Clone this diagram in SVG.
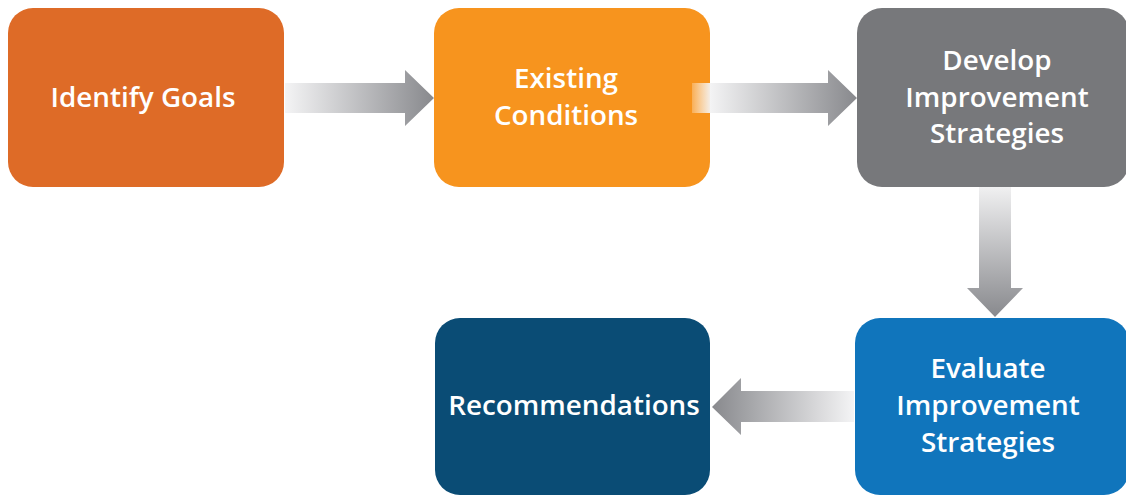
<svg xmlns="http://www.w3.org/2000/svg" width="1126" height="496" viewBox="0 0 1126 496">
<style>
.lbl{font-family:"Open Sans","Liberation Sans",sans-serif;font-weight:600;font-size:27.8px;fill:#ffffff;text-anchor:middle}
</style>
<defs>
<linearGradient id="gR" x1="0" y1="0" x2="1" y2="0">
<stop offset="0" stop-color="#f4f4f5"/>
<stop offset="1" stop-color="#88898d"/>
</linearGradient>
<linearGradient id="gR2" x1="0" y1="0" x2="1" y2="0">
<stop offset="0" stop-color="#ffffff" stop-opacity="0.25"/>
<stop offset="0.12" stop-color="#f2f2f3" stop-opacity="1"/>
<stop offset="1" stop-color="#88898d"/>
</linearGradient>
<linearGradient id="gL" x1="1" y1="0" x2="0" y2="0">
<stop offset="0" stop-color="#f4f4f5"/>
<stop offset="1" stop-color="#88898d"/>
</linearGradient>
<linearGradient id="gD" x1="0" y1="0" x2="0" y2="1">
<stop offset="0" stop-color="#f0f0f1"/>
<stop offset="1" stop-color="#88898d"/>
</linearGradient>
</defs>
<rect width="1126" height="496" fill="#ffffff"/>
<g id="n1"><rect x="8" y="8" width="276" height="179" rx="25" fill="#de6b27"/><text class="lbl" x="143" y="107">Identify Goals</text></g>
<g id="n2"><rect x="434" y="8" width="276" height="179" rx="25" fill="#f7941e"/><text class="lbl" x="566" y="88">Existing</text><text class="lbl" x="566" y="125">Conditions</text></g>
<g id="n3"><rect x="857" y="8" width="272" height="179" rx="25" fill="#77787b"/><text class="lbl" x="997" y="70">Develop</text><text class="lbl" x="997" y="107">Improvement</text><text class="lbl" x="997" y="143">Strategies</text></g>
<g id="n4"><rect x="855" y="318" width="274" height="177" rx="25" fill="#1075bc"/><text class="lbl" x="988" y="378">Evaluate</text><text class="lbl" x="988" y="415">Improvement</text><text class="lbl" x="988" y="452">Strategies</text></g>
<g id="n5"><rect x="435" y="318" width="275" height="177" rx="25" fill="#0a4c75"/><text class="lbl" x="574" y="415">Recommendations</text></g>
<g id="connectors">
<polygon points="285,83 405,83 405,70 434,98 405,126 405,113 285,113" fill="url(#gR)"/>
<polygon points="692,83 828,83 828,70 857,98 828,126 828,113 692,113" fill="url(#gR2)"/>
<polygon points="979,187 1011,187 1011,288 1023,288 995,317 967,288 979,288" fill="url(#gD)"/>
<polygon points="854,391 741,391 741,378 712,407 741,435 741,422 854,422" fill="url(#gL)"/>
</g>
</svg>
